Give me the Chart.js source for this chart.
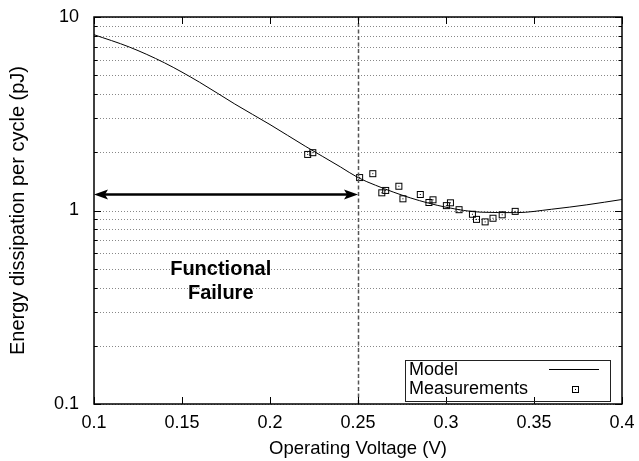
<!DOCTYPE html>
<html>
<head>
<meta charset="utf-8">
<script src="https://cdn.jsdelivr.net/npm/chart.js@4.4.0/dist/chart.umd.min.js"></script>
<style>
  html, body { margin: 0; padding: 0; background: #fff; }
</style>
</head>
<body>
<canvas id="grafica" width="639" height="461"></canvas>
<script>
// Curva del modelo
const voltajeModelo = [0.10, 0.12, 0.14, 0.16, 0.18, 0.20, 0.22, 0.24, 0.25, 0.26, 0.28, 0.30, 0.32, 0.34, 0.36, 0.38, 0.40];
const energiaModelo = [8.1, 7.0, 5.8, 4.6, 3.55, 2.78, 2.15, 1.68, 1.48, 1.35, 1.16, 1.04, 0.98, 0.975, 1.015, 1.07, 1.14];

// Mediciones
const voltajeMedido = [0.2214, 0.2243, 0.2509, 0.2584, 0.2635, 0.2657, 0.2732, 0.2755, 0.2854, 0.2903,
  0.2926, 0.3002, 0.3025, 0.3074, 0.3150, 0.3173, 0.3222, 0.3267, 0.3319, 0.3393];
const energiaMedida = [1.95, 1.99, 1.48, 1.55, 1.235, 1.27, 1.335, 1.15, 1.21, 1.10,
  1.136, 1.06, 1.096, 1.01, 0.957, 0.90, 0.874, 0.912, 0.95, 0.99];

const ticksX = [0.1, 0.15, 0.2, 0.25, 0.3, 0.35, 0.4];
const ticksYPrincipales = [0.1, 1, 10];
const limiteFallo = 0.25;
const nivelFlecha = 1.21;
const textoFallo = ['Functional', 'Failure'];
const posTextoFallo = [0.172, 0.496, 0.372];

const fuente = "'Liberation Sans', Arial, Helvetica, sans-serif";
Chart.defaults.font.family = fuente;
Chart.defaults.color = '#000';

// ticks del eje y: 0.1..0.9, 1..9, 10
const ticksY = [];
ticksYPrincipales.forEach((d, i) => {
  if (i === ticksYPrincipales.length - 1) { ticksY.push(d); return; }
  for (let k = 1; k < 10; k++) ticksY.push(+(d * k).toPrecision(3));
});

function crearMarcador() {
  const c = document.createElement('canvas');
  c.width = 9; c.height = 9;
  const g = c.getContext('2d');
  g.strokeStyle = '#000';
  g.lineWidth = 1;
  g.strokeRect(1.5, 1.5, 6, 6);
  g.fillStyle = '#000';
  g.fillRect(4, 4, 1, 1);
  return c;
}
const marcador = crearMarcador();

function cabeza(ctx, x, y, dir) {
  ctx.beginPath();
  ctx.moveTo(x, y);
  ctx.lineTo(x + dir * 14, y - 5);
  ctx.lineTo(x + dir * 11, y);
  ctx.lineTo(x + dir * 14, y + 5);
  ctx.closePath();
  ctx.fill();
}

const adornos = {
  id: 'adornos',
  beforeDatasetsDraw(chart) {
    // rejilla punteada horizontal
    const ctx = chart.ctx;
    const area = chart.chartArea;
    const sy = chart.scales.y;
    ctx.save();
    ctx.strokeStyle = '#888';
    ctx.lineWidth = 1;
    ctx.setLineDash([1, 2]);
    ctx.beginPath();
    ticksY.forEach(v => {
      const y = Math.round(sy.getPixelForValue(v)) + 0.5;
      ctx.moveTo(area.left, y);
      ctx.lineTo(area.right, y);
    });
    ctx.stroke();
    ctx.restore();
  },
  afterDatasetsDraw(chart) {
    const ctx = chart.ctx;
    const area = chart.chartArea;
    const sx = chart.scales.x, sy = chart.scales.y;
    ctx.save();

    // linea vertical discontinua en 0.25 V
    const xl = Math.round(sx.getPixelForValue(limiteFallo)) + 0.5;
    ctx.strokeStyle = '#555';
    ctx.lineWidth = 1.5;
    ctx.setLineDash([4, 2.5]);
    ctx.beginPath();
    ctx.moveTo(xl, area.bottom);
    ctx.lineTo(xl, area.top);
    ctx.stroke();
    ctx.setLineDash([]);

    // flecha doble
    const yf = sy.getPixelForValue(nivelFlecha);
    const x1 = sx.getPixelForValue(0.1), x2 = sx.getPixelForValue(limiteFallo);
    ctx.strokeStyle = '#000';
    ctx.fillStyle = '#000';
    ctx.lineWidth = 2.5;
    ctx.beginPath();
    ctx.moveTo(x1 + 10, yf);
    ctx.lineTo(x2 - 10, yf);
    ctx.stroke();
    cabeza(ctx, x1, yf, 1);
    cabeza(ctx, x2, yf, -1);

    // texto
    ctx.font = 'bold 20px ' + fuente;
    ctx.textAlign = 'center';
    ctx.textBaseline = 'middle';
    const xt = sx.getPixelForValue(posTextoFallo[0]);
    ctx.fillText(textoFallo[0], xt, sy.getPixelForValue(posTextoFallo[1]));
    ctx.fillText(textoFallo[1], xt, sy.getPixelForValue(posTextoFallo[2]));
    ctx.restore();
  },
  afterDraw(chart) {
    const ctx = chart.ctx;
    const area = chart.chartArea;
    const sx = chart.scales.x, sy = chart.scales.y;
    ctx.save();
    ctx.strokeStyle = '#000';
    ctx.lineWidth = 1;

    // marcas de los ejes (hacia dentro, en los cuatro lados)
    ctx.beginPath();
    ticksX.forEach(v => {
      const x = Math.round(sx.getPixelForValue(v)) + 0.5;
      ctx.moveTo(x, area.bottom); ctx.lineTo(x, area.bottom - 7);
      ctx.moveTo(x, area.top); ctx.lineTo(x, area.top + 7);
    });
    ticksY.forEach(v => {
      const y = Math.round(sy.getPixelForValue(v)) + 0.5;
      const l = ticksYPrincipales.includes(v) ? 7 : 3.5;
      ctx.moveTo(area.left, y); ctx.lineTo(area.left + l, y);
      ctx.moveTo(area.right, y); ctx.lineTo(area.right - l, y);
    });
    ctx.stroke();

    // marco
    ctx.lineWidth = 1.5;
    ctx.strokeRect(area.left, area.top, area.right - area.left, area.bottom - area.top);

    // leyenda
    const bx = area.right - 217, by = area.top + 343, bw = 205, bh = 41;
    ctx.lineWidth = 1;
    ctx.strokeStyle = '#222';
    ctx.strokeRect(bx + 0.5, by + 0.5, bw, bh);
    ctx.font = '18px ' + fuente;
    ctx.fillStyle = '#000';
    ctx.textAlign = 'left';
    ctx.textBaseline = 'middle';
    const ds = chart.data.datasets;
    ctx.fillText(ds[0].label, bx + 4, by + 10);
    ctx.fillText(ds[1].label, bx + 4, by + 29);
    ctx.strokeStyle = '#000';
    ctx.beginPath();
    ctx.moveTo(bx + 144, by + 9.5);
    ctx.lineTo(bx + 194, by + 9.5);
    ctx.stroke();
    ctx.drawImage(marcador, bx + 170 - 4, by + 29 - 4);
    ctx.restore();
  }
};

new Chart(document.getElementById('grafica').getContext('2d'), {
  type: 'scatter',
  data: {
    datasets: [{
      label: 'Model',
      type: 'line',
      data: voltajeModelo.map((v, i) => ({ x: v, y: energiaModelo[i] })),
      borderColor: '#000',
      borderWidth: 1,
      pointRadius: 0,
      cubicInterpolationMode: 'monotone',
      fill: false,
    }, {
      label: 'Measurements',
      data: voltajeMedido.map((v, i) => ({ x: v, y: energiaMedida[i] })),
      pointStyle: marcador,
      pointRadius: 4,
      showLine: false,
    }],
  },
  options: {
    responsive: false,
    animation: false,
    devicePixelRatio: 1,
    layout: { padding: { top: 17, right: 17, left: 0, bottom: 0 } },
    plugins: {
      legend: { display: false },
      tooltip: { enabled: false },
    },
    scales: {
      x: {
        type: 'linear',
        min: 0.1,
        max: 0.4,
        afterBuildTicks: s => { s.ticks = ticksX.map(v => ({ value: v })); },
        afterFit: s => { s.height = 57; s.paddingLeft = 0; s.paddingRight = 0; },
        grid: { display: false, drawTicks: false },
        border: { display: false },
        ticks: {
          padding: 8,
          font: { size: 18 },
          callback: v => String(+v.toFixed(2)),
        },
        title: {
          display: true,
          text: 'Operating Voltage (V)',
          font: { size: 18.5 },
          padding: { bottom: 1, top: 0 },
        },
      },
      y: {
        type: 'logarithmic',
        min: 0.1,
        max: 10,
        afterBuildTicks: s => { s.ticks = ticksY.map(v => ({ value: v })); },
        afterFit: s => { s.width = 94; s.paddingTop = 0; s.paddingBottom = 0; },
        grid: { display: false, drawTicks: false },
        border: { display: false },
        ticks: {
          padding: 15,
          autoSkip: false,
          font: { size: 18 },
          callback: v => ticksYPrincipales.includes(v) ? String(v) : '',
        },
        title: {
          display: true,
          text: 'Energy dissipation per cycle (pJ)',
          font: { size: 20 },
          padding: { top: 6, bottom: 0 },
        },
      },
    },
  },
  plugins: [adornos],
});
</script>
</body>
</html>
